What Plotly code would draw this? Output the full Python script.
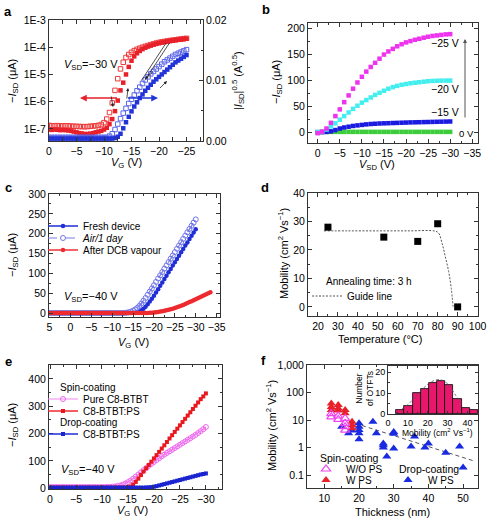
import numpy as np
import plotly.graph_objects as go

W, H = 487, 518
FONT = "Liberation Sans, Arial, sans-serif"
AX = "#333333"


def px(x):
    return x / W


def py(y):
    return 1 - y / H


# ---------------- Panel a : transfer curve (log + sqrt) ----------------
a_vg = np.arange(0, -25.01, -0.5)
a_red_back = [1.35e-7, 1.3e-7, 1.3e-7, 1.32e-7, 1.3e-7, 1.28e-7, 1.3e-7, 1.3e-7, 1.27e-7, 1.25e-7,
              1.25e-7, 1.22e-7, 1.22e-7, 1.2e-7, 1.22e-7, 1.25e-7, 1.28e-7, 1.3e-7, 1.35e-7, 1.45e-7,
              1.7e-7, 2.3e-7, 4e-7, 9e-7, 2.6e-6, 7e-6, 1.6e-5, 2.8e-5, 4.2e-5, 5.4e-5,
              6.5e-5, 7.5e-5, 8.4e-5, 9.2e-5, 1.0e-4, 1.08e-4, 1.16e-4, 1.25e-4, 1.33e-4, 1.42e-4,
              1.5e-4, 1.57e-4, 1.63e-4, 1.7e-4, 1.76e-4, 1.82e-4, 1.88e-4, 1.94e-4, 2.0e-4, 2.06e-4,
              2.12e-4]
a_red_fwd = [9.5e-8, 9.2e-8, 9.5e-8, 9.3e-8, 9e-8, 9.2e-8, 9e-8, 8.8e-8, 8.5e-8, 8e-8,
             7.5e-8, 7e-8, 6.8e-8, 6.5e-8, 6.5e-8, 6.7e-8, 7e-8, 7.5e-8, 8e-8, 8.5e-8,
             9.5e-8, 1.1e-7, 1.5e-7, 2.3e-7, 4.5e-7, 1.1e-6, 2.6e-6, 5e-6, 1e-5, 1.9e-5,
             3.2e-5, 4.6e-5, 6e-5, 7.3e-5, 8.5e-5, 9.6e-5, 1.06e-4, 1.15e-4, 1.24e-4, 1.33e-4,
             1.41e-4, 1.49e-4, 1.56e-4, 1.63e-4, 1.7e-4, 1.76e-4, 1.82e-4, 1.88e-4, 1.94e-4, 2.0e-4,
             2.06e-4]
a_blue_back = [0.0006, 0.0006, 0.0006, 0.0006, 0.0006, 0.0006, 0.0006, 0.0006, 0.0006, 0.0006,
               0.0006, 0.0006, 0.0006, 0.0006, 0.0006, 0.0006, 0.0006, 0.0006, 0.0006, 0.0006,
               0.0006, 0.0006, 0.0008, 0.0012, 0.0019, 0.0028, 0.0037, 0.0046, 0.0054, 0.0062,
               0.0069, 0.0076, 0.0083, 0.0089, 0.0095, 0.0101, 0.0106, 0.0111, 0.0115, 0.0119,
               0.0123, 0.0127, 0.0131, 0.0134, 0.0137, 0.0140, 0.0143, 0.0145, 0.0147, 0.0149,
               0.0151]
a_blue_fwd = [0.0004, 0.0004, 0.0004, 0.0004, 0.0004, 0.0004, 0.0004, 0.0004, 0.0004, 0.0004,
              0.0004, 0.0004, 0.0004, 0.0004, 0.0004, 0.0004, 0.0004, 0.0004, 0.0004, 0.0004,
              0.0004, 0.0004, 0.0004, 0.0004, 0.0005, 0.0007, 0.0012, 0.0021, 0.0031, 0.0040,
              0.0049, 0.0057, 0.0064, 0.0071, 0.0077, 0.0083, 0.0088, 0.0093, 0.0098, 0.0102,
              0.0106, 0.0110, 0.0114, 0.0118, 0.0122, 0.0126, 0.0130, 0.0133, 0.0136, 0.0139,
              0.0142]
a_fit1_x = [-16.8, -21.3]
a_fit1_y = [0.0100, 0.0162]
a_fit2_x = [-17.4, -21.9]
a_fit2_y = [0.0100, 0.0162]

# ---------------- Panel b : output curves ----------------
b_vsd = np.arange(0, -30.01, -1)
b_m25 = [-2, 1, 7, 18, 31, 44, 58, 71, 84, 96, 107, 117, 126, 134, 142, 150, 156, 161, 166, 170,
         173.5, 176, 178.5, 180.5, 182.5, 184.5, 186, 187, 188, 189, 189.5]
b_m20 = [0, 1, 5, 11, 17, 24, 31, 38, 45, 51, 57, 62, 67, 72, 76, 80, 84, 87, 89.5, 91.5,
         93, 94.5, 95.5, 96.5, 97.5, 98.5, 99, 99.3, 99.5, 99.6, 99.7]
b_m15 = [0, 0, 0.5, 1.5, 4, 7, 9, 10.5, 12, 13, 14, 15, 15.7, 16.2, 16.7, 17, 17.3, 17.6, 17.9, 18.2,
         18.5, 18.8, 19, 19.2, 19.4, 19.6, 19.8, 20, 20.2, 20.4, 20.6]
b_m0 = [0, 0.3, 0.4, 0.5, 0.5, 0.5, 0.5, 0.5, 0.5, 0.5, 0.5, 0.5, 0.5, 0.5, 0.5, 0.5, 0.5, 0.5, 0.5, 0.5,
        0.5, 0.5, 0.5, 0.5, 0.5, 0.5, 0.5, 0.5, 0.5, 0.5, 0.5]

# ---------------- Panel c : stability ----------------
c_vg = np.arange(5, -30.01, -0.5)
c_vg_dcb = np.arange(5, -33.51, -0.5)
c_fresh = [0, 0, 0, 0, 0, 0, 0, 0, 0, 0, 0, 0, 0, 0, 0, 0, 0, 0, 0, 0,
           0, 0, 0, 0, 0, 0, 0, 0, 0, 0, 0, 0, 0, 0, 0, 0, 0, 0, 0, 0,
           0.5, 1, 2, 4, 7, 11, 16, 22, 29, 36,
           43.5, 51.5, 60, 68.5, 77, 85.5, 94, 102.5, 111, 119.5, 128, 136, 144.5, 153, 161.5, 170,
           178, 186.5, 195, 203, 211]
c_air = [0, 0, 0, 0, 0, 0, 0, 0, 0, 0, 0, 0, 0, 0, 0, 0, 0, 0, 0, 0,
         0, 0, 0, 0, 0, 0, 0, 0, 0, 0, 0, 0, 0, 0, 0, 0,
         0.5, 1, 2, 3.5, 6, 9, 13, 18, 24, 31, 38, 46, 54, 62, 70, 78.5, 87, 95, 103.5, 112,
         120, 128.5, 137, 145, 153.5, 162, 170, 178.5, 187, 195, 203.5, 212, 220, 228, 236]
c_dcb = [0, 0, 0, 0, 0, 0, 0, 0, 0, 0, 0, 0, 0, 0, 0, 0, 0, 0, 0, 0,
         0, 0, 0, 0, 0, 0, 0, 0, 0, 0, 0, 0, 0, 0, 0, 0, 0, 0, 0, 0,
         0, 0, 0, 0, 0, 0, 0,
         0.3, 0.6, 1, 1.5, 2, 2.8, 3.6, 4.5, 5.5, 6.7, 8, 9.5, 11, 12.7, 14.5, 16.5,
         18.5, 20.5, 22.5, 25, 27.5, 30, 32.5, 35, 37.5, 40, 42.5, 45, 47.5, 50, 52.5]

# ---------------- Panel d : annealing ----------------
d_temp = [25, 53, 70, 80, 90]
d_mob = [28, 24.5, 23, 29.2, 0]
d_guide_t = [23, 35, 50, 65, 78.8, 80.5, 82.2, 83.8, 85.5, 86.8, 87.7]
d_guide_m = [26.7, 26.7, 26.7, 26.7, 26.6, 25.9, 22.3, 17.7, 12.4, 6.5, 0.1]

# ---------------- Panel e : spin vs drop coating ----------------
e_vg = np.arange(0, -30.01, -0.5)
e_pure = [4, 4, 4, 4, 4, 4, 4, 4, 4, 4, 4, 4, 4, 4, 4, 4, 4, 4, 4, 4, 4,
          4, 4.5, 5, 5.5, 6.5, 8, 10, 13, 17, 22, 28, 35, 42, 50, 58, 66, 74, 82, 89, 96,
          103, 110, 117, 123, 129, 135, 141, 147, 153, 159, 165, 171, 177, 183, 189, 195, 202, 209, 216, 224]
e_spin_ps = [2, 2, 2, 2, 2, 2, 2, 2, 2, 2, 2, 2, 2, 2, 2, 2, 2, 2, 2, 2,
             2, 2, 2, 2, 2, 2, 2, 2, 2, 2,
             3, 6, 13, 23, 35, 48, 61, 73, 85, 97, 109, 121, 133, 145, 157, 169, 182, 194, 206, 218,
             230, 242, 254, 266, 278, 290, 302, 314, 326, 336, 347]
e_drop_ps = [2, 2, 2, 2, 2, 2, 2, 2, 2, 2, 2, 2, 2, 2, 2, 2, 2, 2, 2, 2,
             2, 2, 2, 2, 2, 2, 2, 2, 2, 2, 2, 2, 2, 2, 2, 2, 2,
             2.5, 3, 4, 5.5, 7.5, 10, 12.5, 15, 17.5, 20, 22.5, 25, 27.5, 30, 32.5, 35, 37.5, 40,
             42.5, 45, 47.5, 50, 52, 54]

# ---------------- Panel f : thickness dependence ----------------
f_wo_x = [12, 12, 14, 14, 16, 16, 16, 16]
f_wo_y = [17, 13, 14, 10.5, 11.5, 7.6, 5.7, 4.3]
f_w_x = [12, 12, 12, 14, 14, 14, 16, 16, 18, 18, 18]
f_w_y = [40, 30, 23, 35, 27, 22, 23, 17.5, 8.7, 6.6, 5.0]
f_drop_x = [15, 17, 18, 20, 20, 20, 20, 20, 24, 25, 27, 27, 27, 28, 30, 30, 30, 35, 36, 39, 40, 45, 49, 50]
f_drop_y = [5.7, 3.3, 4.2, 7.6, 5.7, 4.3, 3.3, 2.0, 8.7, 3.3, 1.4, 1.0, 1.2, 0.47, 3.7, 3.2, 0.93,
            1.1, 2.5, 1.0, 1.4, 0.65, 1.1, 0.19]
f_fit_x = [17, 53]
f_fit_y = [9, 0.33]
hist_centers = [6.25, 10.35, 14.45, 18.55, 22.65, 26.75, 30.85, 34.95, 39.05, 43.15]
hist_counts = [2, 4, 10, 12, 15, 16, 14, 7, 3, 2]
hist_fit_x = [7, 10, 14, 18, 22, 26, 30, 34, 37]
hist_fit_y = [2.5, 4.5, 8.5, 12.5, 15.5, 16.5, 14.5, 9, 5]

RED = "#e8202a"
BLUE = "#2233d8"

fig = go.Figure()

# panel a
fig.add_trace(go.Scatter(x=a_vg, y=a_red_back, mode="markers", xaxis="x", yaxis="y",
                         marker=dict(symbol="square-open", size=4.5, color="#ee3a3a", line=dict(width=1)),
                         showlegend=False))
fig.add_trace(go.Scatter(x=a_vg, y=a_red_fwd, mode="markers", xaxis="x", yaxis="y",
                         marker=dict(symbol="square", size=4.5, color=RED), showlegend=False))
fig.add_trace(go.Scatter(x=a_vg, y=a_blue_back, mode="markers", xaxis="x", yaxis="y2",
                         marker=dict(symbol="square-open", size=4.5, color="#5b66e8", line=dict(width=1)),
                         showlegend=False))
fig.add_trace(go.Scatter(x=a_vg, y=a_blue_fwd, mode="markers", xaxis="x", yaxis="y2",
                         marker=dict(symbol="square", size=4.5, color=BLUE), showlegend=False))
for fx, fy in ((a_fit1_x, a_fit1_y), (a_fit2_x, a_fit2_y)):
    fig.add_trace(go.Scatter(x=fx, y=fy, mode="lines", xaxis="x", yaxis="y2",
                             line=dict(color="#222", width=0.8), showlegend=False))

# panel b
for vals, col in ((b_m0, "#3ccc3c"), (b_m15, "#1a1ae0"), (b_m20, "#44eeee"), (b_m25, "#ee33ee")):
    fig.add_trace(go.Scatter(x=b_vsd, y=vals, mode="markers", xaxis="x2", yaxis="y3",
                             marker=dict(symbol="square", size=4.5, color=col), showlegend=False))

# panel c
fig.add_trace(go.Scatter(x=c_vg, y=c_fresh, mode="lines+markers", xaxis="x3", yaxis="y4",
                         name="Fresh device", legend="legend",
                         line=dict(color="#1f2ed6", width=1.3),
                         marker=dict(symbol="circle", size=4.5, color="#1f2ed6")))
fig.add_trace(go.Scatter(x=c_vg, y=c_air, mode="lines+markers", xaxis="x3", yaxis="y4",
                         name="<i>Air/1 day</i>", legend="legend2",
                         line=dict(color="#7b7fe8", width=1.2, dash="dash"),
                         marker=dict(symbol="circle-open", size=5, color="#6f74e8", line=dict(width=1))))
fig.add_trace(go.Scatter(x=c_vg_dcb, y=c_dcb, mode="lines+markers", xaxis="x3", yaxis="y4",
                         name="After DCB vapour", legend="legend3",
                         line=dict(color="#ee3034", width=1.5),
                         marker=dict(symbol="circle", size=4.5, color="#ee2a2e")))

# panel d
fig.add_trace(go.Scatter(x=d_guide_t, y=d_guide_m, mode="lines", xaxis="x4", yaxis="y5",
                         name="Guide line", legend="legend4", line_shape="spline",
                         line=dict(color="#555", width=1, dash="2px,1.5px")))
fig.add_trace(go.Scatter(x=d_temp, y=d_mob, mode="markers", xaxis="x4", yaxis="y5",
                         marker=dict(symbol="square", size=7, color="black"), showlegend=False))

# panel e
fig.add_trace(go.Scatter(x=e_vg, y=e_pure, mode="lines+markers", xaxis="x5", yaxis="y6",
                         name="Pure C8-BTBT", legend="legend5",
                         line=dict(color="#f28af2", width=1.2),
                         marker=dict(symbol="circle-open", size=5, color="#ee66ee", line=dict(width=1))))
fig.add_trace(go.Scatter(x=e_vg, y=e_spin_ps, mode="lines+markers", xaxis="x5", yaxis="y6",
                         name="C8-BTBT:PS", legend="legend6",
                         line=dict(color="#ee2a2e", width=1.3),
                         marker=dict(symbol="square", size=4, color="#e8181e")))
fig.add_trace(go.Scatter(x=e_vg, y=e_drop_ps, mode="lines+markers", xaxis="x5", yaxis="y6",
                         name="C8-BTBT:PS", legend="legend7",
                         line=dict(color="#1f2ed6", width=1.3),
                         marker=dict(symbol="square", size=4, color="#1a24d0")))

# panel f
fig.add_trace(go.Scatter(x=f_fit_x, y=f_fit_y, mode="lines", xaxis="x6", yaxis="y7",
                         line=dict(color="#555", width=1, dash="4px,3px"), showlegend=False))
fig.add_trace(go.Scatter(x=f_drop_x, y=f_drop_y, mode="markers", xaxis="x6", yaxis="y7",
                         name="W PS", legend="legend10",
                         marker=dict(symbol="triangle-up", size=8, color="#1a2ae0")))
fig.add_trace(go.Scatter(x=f_w_x, y=f_w_y, mode="markers", xaxis="x6", yaxis="y7",
                         name="W PS", legend="legend9",
                         marker=dict(symbol="triangle-up", size=8, color="#e8202a")))
fig.add_trace(go.Scatter(x=f_wo_x, y=f_wo_y, mode="markers", xaxis="x6", yaxis="y7",
                         name="W/O PS", legend="legend8",
                         marker=dict(symbol="triangle-up-open", size=8, color="#ee44ee", line=dict(width=1.2))))
# inset
fig.add_trace(go.Bar(x=hist_centers, y=hist_counts, width=4.1, xaxis="x7", yaxis="y8",
                     marker=dict(color="#e8176e", line=dict(color="black", width=0.8)), showlegend=False))
fig.add_trace(go.Scatter(x=hist_fit_x, y=hist_fit_y, mode="lines", xaxis="x7", yaxis="y8", line_shape="spline",
                         line=dict(color="#555", width=0.8, dash="3px,2px"), showlegend=False))


def neg_labels(vals):
    return [("\u2212" + str(abs(v))) if v < 0 else str(v) for v in vals]


def axis(domain, anchor, rng, tickvals=None, ticktext=None, mirror="allticks", minor_dtick=None, **kw):
    d = dict(domain=domain, anchor=anchor, range=rng, showline=True, linecolor=AX, linewidth=1,
             mirror=mirror, ticks="inside", ticklen=4, tickcolor=AX, tickwidth=1,
             showgrid=False, zeroline=False, automargin=False,
             tickfont=dict(size=10.5, color="black", family=FONT))
    if tickvals is not None:
        d["tickmode"] = "array"
        d["tickvals"] = tickvals
        d["ticktext"] = ticktext if ticktext is not None else [str(v) for v in tickvals]
    if minor_dtick is not None:
        d["minor"] = dict(ticks="inside", ticklen=2, tickcolor=AX, dtick=minor_dtick, showgrid=False)
    d.update(kw)
    return d


ax_vals = [0, -5, -10, -15, -20, -25]
b_vals = [0, -5, -10, -15, -20, -25, -30, -35]
c_vals = [5, 0, -5, -10, -15, -20, -25, -30, -35]
e_vals = [0, -5, -10, -15, -20, -25, -30]
INSET_FONT = dict(size=9, color="black", family=FONT)

layout = dict(
    width=W, height=H, margin=dict(l=0, r=0, t=0, b=0),
    paper_bgcolor="white", plot_bgcolor="white",
    font=dict(family=FONT, size=10.5, color="black"),
    xaxis=axis([px(49), px(203)], "y", [0, -28], ax_vals, neg_labels(ax_vals), minor_dtick=2.5),
    yaxis=axis([py(141), py(20)], "x", [np.log10(3.6e-8), -3], [1e-7, 1e-6, 1e-5, 1e-4, 1e-3],
               ["1E-7", "1E-6", "1E-5", "1E-4", "1E-3"], mirror=False, type="log"),
    yaxis2=axis(None, "x", [0, 0.02], [0, 0.01, 0.02], ["0.00", "0.01", "0.02"], mirror=False,
                overlaying="y", side="right"),
    xaxis2=axis([px(308), px(478)], "y3", [2.2, -36.3], b_vals, neg_labels(b_vals), minor_dtick=2.5),
    yaxis3=axis([py(143), py(23)], "x2", [-21, 211], [0, 50, 100, 150, 200], minor_dtick=25),
    xaxis3=axis([px(49), px(220)], "y4", [5.1, -35.8], c_vals, neg_labels(c_vals), minor_dtick=2.5),
    yaxis4=axis([py(317), py(194)], "x3", [-10, 300], [0, 50, 100, 150, 200, 250, 300], minor_dtick=25),
    xaxis4=axis([px(308), px(478)], "y5", [15, 100.2], [20, 30, 40, 50, 60, 70, 80, 90, 100], minor_dtick=5),
    yaxis5=axis([py(316), py(193)], "x4", [-3.2, 40], [0, 10, 20, 30, 40], minor_dtick=5),
    xaxis5=axis([px(49), px(222)], "y6", [0.2, -33.1], e_vals, neg_labels(e_vals), minor_dtick=2.5),
    yaxis6=axis([py(489), py(365)], "x5", [-3, 451], [0, 100, 200, 300, 400], minor_dtick=50),
    xaxis6=axis([px(307), px(478)], "y7", [5, 54.3], [10, 20, 30, 40, 50], minor_dtick=5),
    yaxis7=axis([py(488), py(365)], "x6", [-1.47, 3], [0.1, 1, 10, 100, 1000],
                ["0.1", "1", "10", "100", "1,000"], type="log"),
    xaxis7=axis([px(388), px(478)], "y8", [0, 45.3], [0, 10, 20, 30, 40], minor_dtick=5,
                ticklen=3, tickfont=INSET_FONT),
    yaxis8=axis([py(414), py(366)], "x7", [0, 23], [0, 10, 20], minor_dtick=5,
                ticklen=3, tickfont=INSET_FONT),
    bargap=0,
)
layout["yaxis2"].pop("domain")
layout["yaxis2"]["minor"] = dict(ticks="inside", ticklen=2, tickcolor=AX, dtick=0.005)


def leg(xp, yp):
    return dict(x=px(xp), y=py(yp), xanchor="left", yanchor="middle", bgcolor="rgba(0,0,0,0)",
                borderwidth=0, font=dict(size=10, family=FONT, color="black"), itemwidth=30,
                tracegroupgap=0, orientation="v")


layout["legend"] = leg(43, 226)
layout["legend2"] = leg(43, 238)
layout["legend3"] = leg(43, 250)
layout["legend4"] = leg(307, 296)
layout["legend5"] = leg(43, 399)
layout["legend6"] = leg(43, 411)
layout["legend7"] = leg(43, 434)
layout["legend8"] = leg(306, 469)
layout["legend9"] = leg(306, 480)
layout["legend10"] = leg(388, 480)

fig.update_layout(**layout)


def ann(xp, yp, text, size=10.5, angle=0, xanchor="center"):
    return dict(x=px(xp), y=py(yp), xref="paper", yref="paper", text=text, showarrow=False,
                font=dict(size=size, family=FONT, color="black"), textangle=angle,
                xanchor=xanchor, yanchor="middle")


def arrow(hx, hy, tx, ty, color, width=1.0, size=1.0):
    return dict(x=px(hx), y=py(hy), xref="paper", yref="paper", ax=tx - hx, ay=ty - hy,
                showarrow=True, arrowcolor=color, arrowwidth=width, arrowhead=2, arrowsize=size)


ISD = "\u2212<i>I</i><sub>SD</sub> (\u03bcA)"
MOB = "Mobility (cm<sup>2</sup> Vs<sup>\u22121</sup>)"
anns = [
    ann(8, 12, "<b>a</b>", 13), ann(266, 10, "<b>b</b>", 13), ann(8, 187, "<b>c</b>", 13),
    ann(265, 188, "<b>d</b>", 13), ann(8, 361, "<b>e</b>", 13), ann(263, 360, "<b>f</b>", 13),
    # panel a
    ann(126, 163, "<i>V</i><sub>G</sub> (V)", 11),
    ann(13, 81, ISD, 11, -90),
    ann(238, 81, "|<i>I</i><sub>SD</sub>|<sup>0.5</sup> (A<sup>0.5</sup>)", 11, -90),
    ann(62, 65, "<i>V</i><sub>SD</sub>=\u221230 V", 11, xanchor="left"),
    # panel b
    ann(377, 165, "<i>V</i><sub>SD</sub> (V)", 11),
    ann(277, 82, ISD, 11, -90),
    ann(445, 43, "\u221225 V", 10.5), ann(445, 89, "\u221220 V", 10.5),
    ann(445, 112, "\u221215 V", 10.5), ann(466, 133, "0 V", 9.5),
    # panel c
    ann(133, 343, "<i>V</i><sub>G</sub> (V)", 11),
    ann(13, 255, ISD, 11, -90),
    ann(62, 297, "<i>V</i><sub>SD</sub>=\u221240 V", 11, xanchor="left"),
    # panel d
    ann(380, 339, "Temperature (\u00b0C)", 11),
    ann(283, 254, MOB, 11, -90),
    ann(324, 281, "Annealing time: 3 h", 10, xanchor="left"),
    # panel e
    ann(132, 511, "<i>V</i><sub>G</sub> (V)", 11),
    ann(13, 425, ISD, 11, -90),
    ann(58, 387, "Spin-coating", 10, xanchor="left"),
    ann(58, 422, "Drop-coating", 10, xanchor="left"),
    ann(59, 470, "<i>V</i><sub>SD</sub>=\u221240 V", 11, xanchor="left"),
    # panel f
    ann(392, 512, "Thickness (nm)", 11),
    ann(271, 426, MOB, 11, -90),
    ann(318, 458, "Spin-coating", 10.5, xanchor="left"),
    ann(397, 469, "Drop-coating", 10.5, xanchor="left"),
    ann(364, 389, "Number<br>of OTFTs", 8.5, -90),
    ann(437, 432, MOB, 8.5),
    # arrows
    arrow(80, 98, 120, 98, RED, 1.5, 0.9),
    arrow(158, 98, 125, 98, BLUE, 1.5, 0.9),
    arrow(113, 107, 110, 89, "#222", 0.8, 0.8),
    arrow(128, 88, 126, 106, "#222", 0.8, 0.8),
    arrow(145, 79, 156, 69, "#222", 0.8, 0.8),
    arrow(167, 81, 157, 91, "#222", 0.8, 0.8),
    arrow(465, 39, 465, 125, "#555", 1.0, 0.8),
]
fig.update_layout(annotations=anns)

fig.write_html("out.html")
